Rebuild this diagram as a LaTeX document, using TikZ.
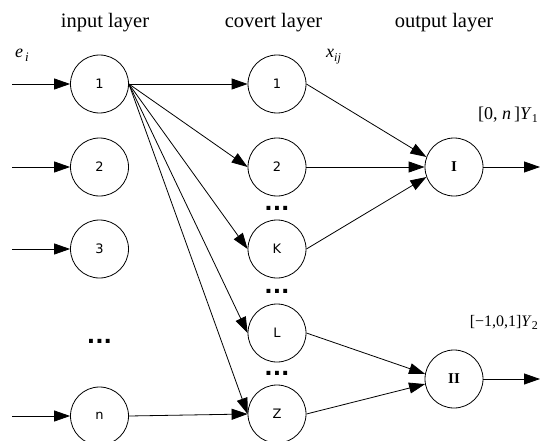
\documentclass[tikz,border=0pt]{standalone}
\usepackage{fontspec}
\setmainfont{Liberation Serif}
\newfontfamily\nodesans{DejaVu Sans}
\newfontfamily\dotfont{DejaVu Sans}
\usetikzlibrary{arrows.meta}
\begin{document}
\begin{tikzpicture}[x=1pt,y=-1pt,
  neuron/.style={circle,draw,line width=0.8pt,minimum size=58pt,inner sep=0pt,font=\nodesans\fontsize{13}{13}\selectfont},
  outneuron/.style={circle,draw,line width=0.8pt,minimum size=58pt,inner sep=0pt,font=\rmfamily\bfseries\fontsize{15}{15}\selectfont},
  conn/.style={line width=0.8pt,-{Triangle[length=16pt,width=11pt]}},
  layerlabel/.style={anchor=base,inner sep=0pt,font=\rmfamily\fontsize{20.5}{24}\selectfont},
  dotslabel/.style={anchor=base,inner sep=0pt,font=\dotfont\bfseries\fontsize{22}{22}\selectfont},
  mathlabel/.style={inner sep=0pt,font=\rmfamily\fontsize{18}{20}\selectfont}]
\useasboundingbox (0,0) rectangle (540,441);

% layer titles
\node[layerlabel] (tin) at (105,28) {input layer};
\node[layerlabel] (tcov) at (273.5,28) {covert layer};
\node[layerlabel] (tout) at (444,28) {output layer};

% input layer
\node[neuron] (i1) at (99.5,84) {1};
\node[neuron] (i2) at (99.5,167) {2};
\node[neuron] (i3) at (99.5,249) {3};
\node[dotslabel] (idots) at (99.5,343) {...};
\node[neuron] (in) at (99.5,416) {n};

% covert layer
\node[neuron] (c1) at (277,84) {1};
\node[neuron] (c2) at (277,167) {2};
\node[dotslabel] (cd1) at (277,210.5) {...};
\node[neuron] (cK) at (277,249) {K};
\node[dotslabel] (cd2) at (277,293.5) {...};
\node[neuron] (cL) at (277,333) {L};
\node[dotslabel] (cd3) at (277,375.5) {...};
\node[neuron] (cZ) at (277,414) {Z};

% output layer
\node[outneuron] (oI) at (454,167) {I};
\node[outneuron] (oII) at (454,379) {II};

% labels
\node[mathlabel,anchor=base west] (ei) at (15,58) {\textit{e}\hspace{2pt}\raisebox{-4pt}{\fontsize{13}{13}\selectfont\textit{i}}};
\node[mathlabel,anchor=base west] (xij) at (326,58) {\textit{x}\raisebox{-4pt}{\fontsize{12}{12}\selectfont\textit{ij}}};
\node[mathlabel,anchor=east] (y1) at (538,115) {[0, \textit{n}\,]\textit{Y}\raisebox{-3pt}{\fontsize{12}{12}\selectfont 1}};
\node[mathlabel,anchor=east,font=\rmfamily\fontsize{16}{18}\selectfont] (y2) at (538,322) {[−1,0,1]\textit{Y}\raisebox{-3pt}{\fontsize{12}{12}\selectfont 2}};

% free ends
\coordinate (s1) at (12,84);
\coordinate (s2) at (12,167);
\coordinate (s3) at (12,249);
\coordinate (sn) at (12,416);
\coordinate (e1) at (540,167);
\coordinate (e2) at (540,379);

% input arrows
\draw[conn] (s1) -- (i1.west);
\draw[conn] (s2) -- (i2.west);
\draw[conn] (s3) -- (i3.west);
\draw[conn] (sn) -- (in.west);

% input -> covert
\draw[conn] (i1.east) -- (c1.west);
\draw[conn] (i1.east) -- (c2.west);
\draw[conn] (i1.east) -- (cK.west);
\draw[conn] (i1.east) -- (cL.west);
\draw[conn] (i1.east) -- (cZ.west);
\draw[conn] (in.east) -- (cZ.west);

% covert -> output
\draw[conn] (c1.east) -- (oI.160);
\draw[conn] (c2.east) -- (oI.west);
\draw[conn] (cK.east) -- (oI.200);
\draw[conn] (cL.east) -- (oII.170);
\draw[conn] (cZ.east) -- (oII.190);

% outputs
\draw[conn] (oI.east) -- (e1);
\draw[conn] (oII.east) -- (e2);
\end{tikzpicture}
\end{document}
